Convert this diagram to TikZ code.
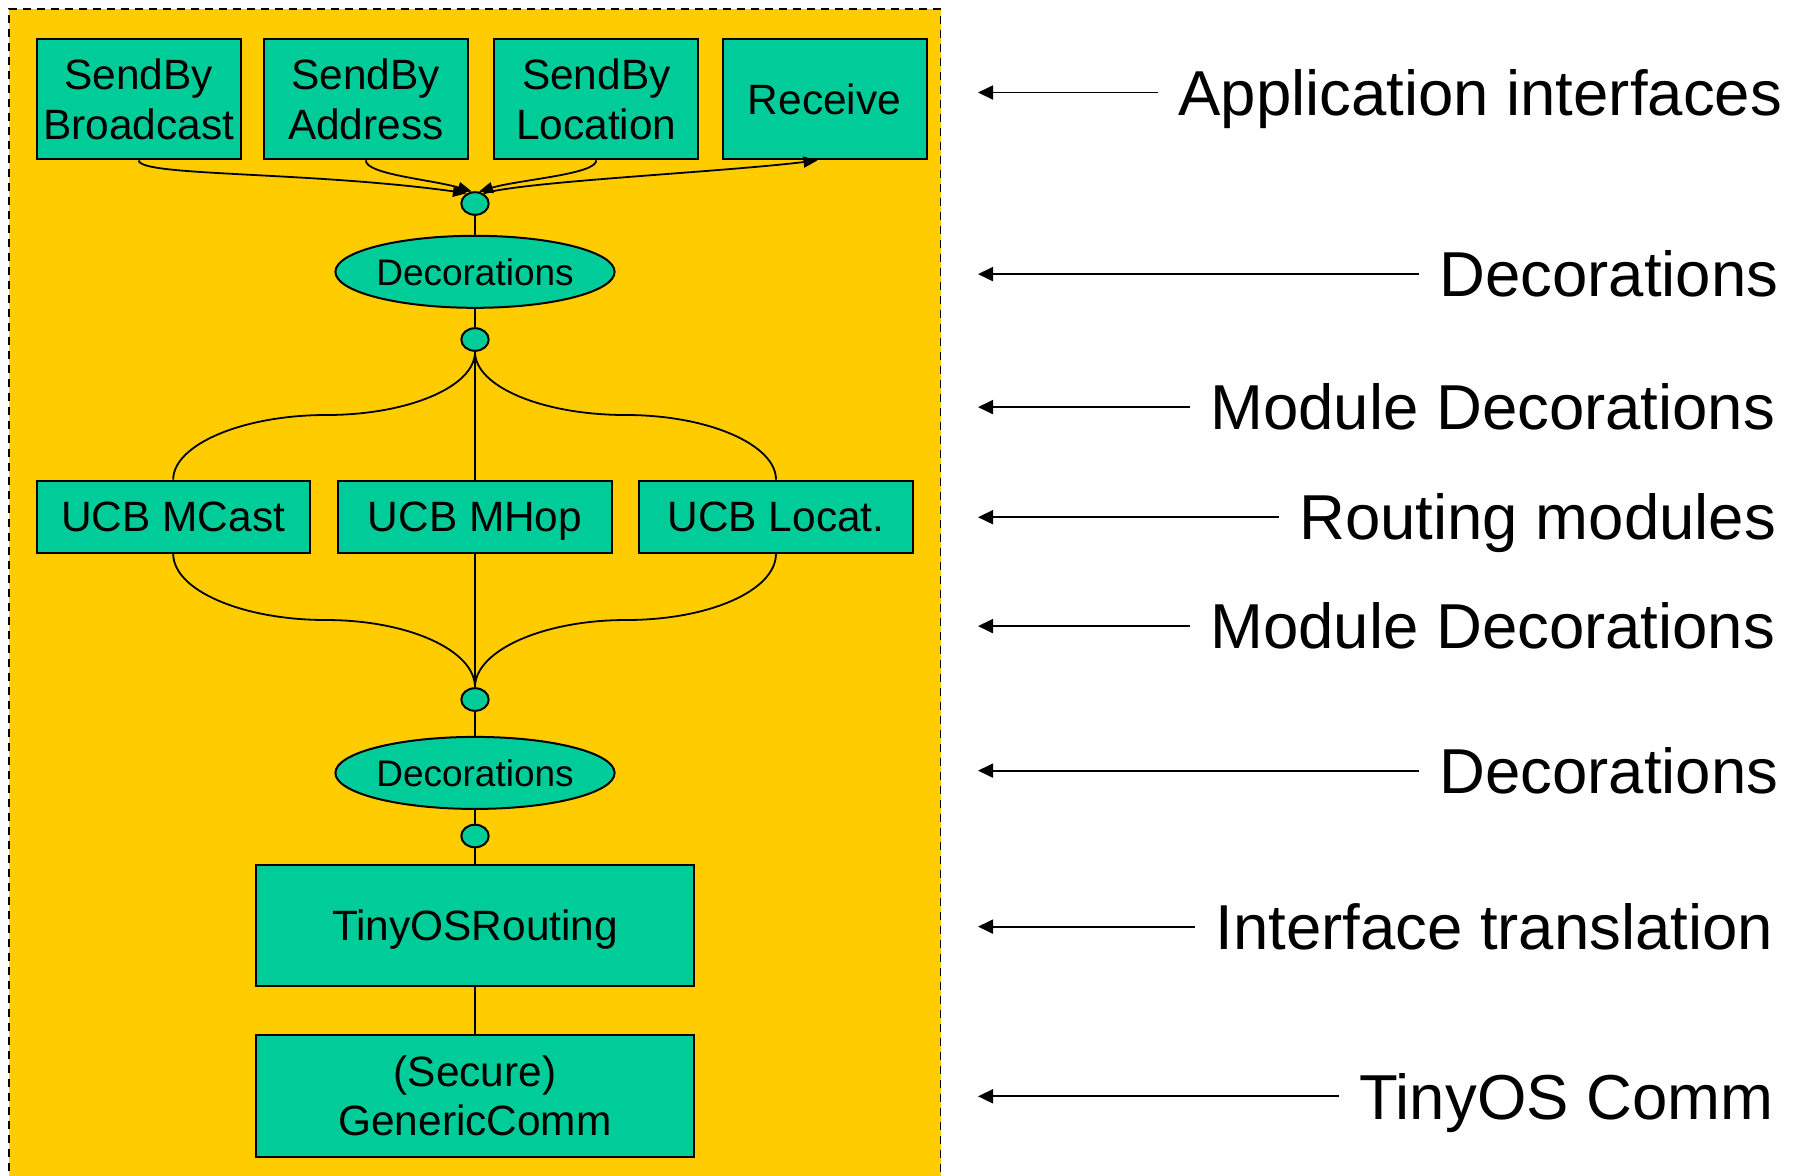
\documentclass[tikz,border=0pt]{standalone}
\usepackage{fontspec}
\setmainfont{Liberation Sans}
\usetikzlibrary{shapes.geometric,arrows.meta}
\definecolor{bgyellow}{HTML}{FFCC00}
\definecolor{boxgreen}{HTML}{00CC99}
\tikzset{
  modbox/.style={draw=black, line width=1pt, fill=boxgreen, inner sep=0pt, align=center,
    font=\fontsize{21.2}{24.8}\selectfont},
  oneline/.style={text height=15.2pt, text depth=0pt},
  decell/.style={ellipse, draw=black, line width=1pt, fill=boxgreen, inner sep=0pt,
    minimum width=137.6pt, minimum height=36pt, font=\fontsize{18.5}{22}\selectfont},
  dot/.style={ellipse, draw=black, line width=1pt, fill=boxgreen, inner sep=0pt,
    minimum width=13.7pt, minimum height=11.3pt},
  wire/.style={line width=0.9pt, black},
  tipwire/.style={line width=0.9pt, black, -{Triangle[length=7pt,width=5.5pt]}},
  lbl/.style={anchor=west, inner sep=0pt, text height=22.7pt, text depth=0pt,
    font=\fontsize{31.75}{36}\selectfont},
  lblarrow/.style={line width=0.9pt, black, -{Triangle[length=7.5pt,width=7pt]}, shorten <=10pt},
}
\begin{document}
\begin{tikzpicture}[x=0.5pt, y=-0.5pt]
\useasboundingbox (0,0) rectangle (1798,1175);
% background panel
\fill[bgyellow] (9,9) rectangle (940.5,1185);
\draw[black, line width=0.8pt, dash pattern=on 4pt off 3pt] (9,1185) -- (9,9) -- (940.5,9) -- (940.5,1185);

% top application interface boxes
\node[modbox, minimum width=102pt, minimum height=60.2pt] (b1) at (138.8,99.2) {SendBy\\Broadcast};
\node[modbox, minimum width=102pt, minimum height=60.2pt] (b2) at (365.8,99.2) {SendBy\\Address};
\node[modbox, minimum width=102pt, minimum height=60.2pt] (b3) at (596.3,99.2) {SendBy\\Location};
\node[modbox, oneline, minimum width=102pt, minimum height=60.2pt] (b4) at (824.5,99.2) {Receive};

\node[dot] (c1) at (475,203.5) {};
\node[decell] (e1) at (475,271.8) {Decorations};
\node[dot] (c2) at (475,339.5) {};

% routing modules
\node[modbox, oneline, minimum width=136.5pt, minimum height=36pt] (m1) at (173.2,516.6) {UCB MCast};
\node[modbox, oneline, minimum width=137pt, minimum height=36pt] (m2) at (475,516.6) {UCB MHop};
\node[modbox, oneline, minimum width=137pt, minimum height=36pt] (m3) at (776,516.6) {UCB Locat.};

\node[dot] (c3) at (475,699.5) {};
\node[decell] (e2) at (475,772.9) {Decorations};
\node[dot] (c4) at (475,836) {};

\node[modbox, oneline, minimum width=219pt, minimum height=60.8pt] (tr) at (475,925.4) {TinyOSRouting};
\node[modbox, minimum width=219pt, minimum height=60.8pt] (gc) at (475,1095.7) {(Secure)\\GenericComm};

% top connectors
\draw[tipwire] (b1.south) .. controls +(0,16) and +(-160,-22) .. (c1.128);
\draw[tipwire] (b2.south) .. controls +(0,14) and +(-40,-12) .. (c1.105);
\draw[tipwire] (b3.south) .. controls +(0,14) and +(40,-12) .. (c1.72);
\draw[tipwire] (c1.50) .. controls +(40,-12) and +(-100,12) .. ([xshift=-3.5pt]b4.south);

% vertical links
\draw[wire] (c1) -- (e1);
\draw[wire] (e1) -- (c2);
\draw[wire] (c2.south) -- (m2.north);
\draw[wire] (m2.south) -- (c3.north);
\draw[wire] (c3) -- (e2);
\draw[wire] (e2) -- (c4);
\draw[wire] (c4) -- (tr);
\draw[wire] (tr) -- (gc);

% branching curves
\coordinate (ul) at (326,415);
\coordinate (ur) at (626,415);
\coordinate (ll) at (326,620);
\coordinate (lr) at (626,620);
\draw[wire] (c2.south) .. controls +(0,35) and +(82,0) .. (ul) .. controls +(-83,0) and +(0,-35) .. (m1.north);
\draw[wire] (c2.south) .. controls +(0,35) and +(-83,0) .. (ur) .. controls +(82,0) and +(0,-35) .. (m3.north);
\draw[wire] (m1.south) .. controls +(0,37) and +(-83,0) .. (ll) .. controls +(82,0) and +(0,-37) .. (c3.north);
\draw[wire] (m3.south) .. controls +(0,37) and +(83,0) .. (lr) .. controls +(-82,0) and +(0,-37) .. (c3.north);

% right-hand labels
\node[lbl] (l1) at (1178,92.5) {Application interfaces};
\node[lbl] (l2) at (1439,274.1) {Decorations};
\node[lbl] (l3) at (1210,407.1) {Module Decorations};
\node[lbl] (l4) at (1299,517.2) {Routing modules};
\node[lbl] (l5) at (1210,626.1) {Module Decorations};
\node[lbl] (l6) at (1439,770.6) {Decorations};
\node[lbl] (l7) at (1215,926.6) {Interface translation};
\node[lbl] (l8) at (1359,1096.3) {TinyOS Comm};
\coordinate (t1) at (978,92.5);
\coordinate (t2) at (978,274.1);
\coordinate (t3) at (978,407.1);
\coordinate (t4) at (978,517.2);
\coordinate (t5) at (978,626.1);
\coordinate (t6) at (978,770.6);
\coordinate (t7) at (978,926.6);
\coordinate (t8) at (978,1096.3);
\foreach \i in {1,...,8} { \draw[lblarrow] (l\i.west) -- (t\i); }
\end{tikzpicture}
\end{document}
